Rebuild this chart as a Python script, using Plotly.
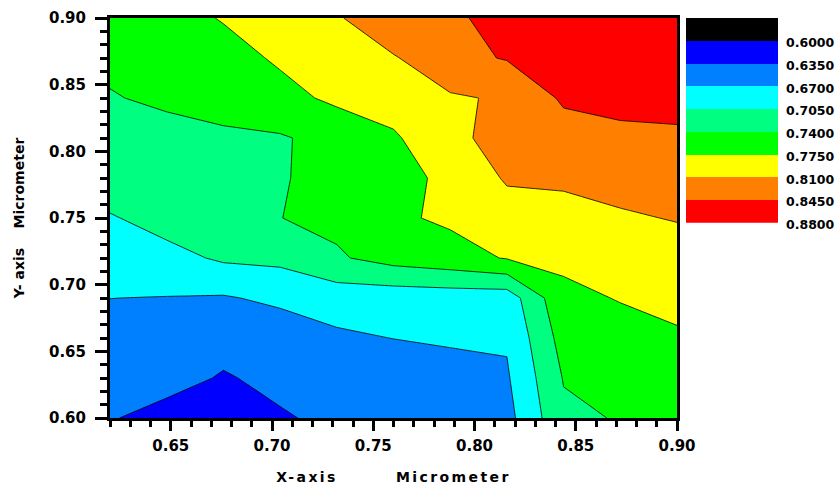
import plotly.graph_objects as go

# ---- data ----
x_vals = [0.620, 0.648, 0.676, 0.704, 0.732, 0.760, 0.788, 0.816, 0.844, 0.872, 0.900]
y_vals = [0.60, 0.63, 0.66, 0.69, 0.72, 0.75, 0.78, 0.81, 0.84, 0.87, 0.90]

row_y060 = [0.6390, 0.6150, 0.6100, 0.6293, 0.6476, 0.6400, 0.6400, 0.6587, 0.7333, 0.7421, 0.7520]
row_y063 = [0.6500, 0.6550, 0.6302, 0.6490, 0.6550, 0.6480, 0.6480, 0.6660, 0.7419, 0.7530, 0.7620]
row_y066 = [0.6600, 0.6620, 0.6550, 0.6500, 0.6644, 0.6705, 0.6770, 0.6735, 0.7538, 0.7640, 0.7713]
row_y069 = [0.6702, 0.6690, 0.6670, 0.6769, 0.6855, 0.6843, 0.6859, 0.6853, 0.7680, 0.7765, 0.7830]
row_y072 = [0.6870, 0.6939, 0.7100, 0.7134, 0.7359, 0.7533, 0.7625, 0.7770, 0.7810, 0.7890, 0.7880]
row_y075 = [0.7020, 0.7187, 0.7200, 0.7396, 0.7480, 0.7700, 0.7802, 0.7965, 0.7970, 0.8040, 0.8127]
row_y078 = [0.7264, 0.7260, 0.7280, 0.7377, 0.7500, 0.7600, 0.7850, 0.8134, 0.8164, 0.8283, 0.8260]
row_y081 = [0.7330, 0.7330, 0.7360, 0.7370, 0.7507, 0.7697, 0.8060, 0.8160, 0.8300, 0.8350, 0.8380]
row_y084 = [0.7387, 0.7437, 0.7490, 0.7640, 0.7820, 0.7936, 0.8060, 0.8140, 0.8500, 0.8579, 0.8588]
row_y087 = [0.7443, 0.7520, 0.7620, 0.7797, 0.7930, 0.8070, 0.8357, 0.8471, 0.8580, 0.8660, 0.8680]
row_y090 = [0.7520, 0.7620, 0.7772, 0.7900, 0.8060, 0.8390, 0.8400, 0.8550, 0.8660, 0.8720, 0.8760]

z_rows = [row_y060, row_y063, row_y066, row_y069, row_y072, row_y075,
          row_y078, row_y081, row_y084, row_y087, row_y090]

levels = [0.600, 0.635, 0.670, 0.705, 0.740, 0.775, 0.810, 0.845, 0.880]
level_labels = ["0.6000", "0.6350", "0.6700", "0.7050", "0.7400",
                "0.7750", "0.8100", "0.8450", "0.8800"]
band_colors = ["#000000", "#0000FF", "#0080FF", "#00FFFF", "#00FF80",
               "#00FF00", "#FFFF00", "#FF8000", "#FF0000"]
legend_floor = 0.565
x_ticks = [0.65, 0.70, 0.75, 0.80, 0.85, 0.90]
y_ticks = [0.60, 0.65, 0.70, 0.75, 0.80, 0.85, 0.90]


def stepped(colors):
    n = len(colors)
    scale = []
    for k, c in enumerate(colors):
        lo = max(0.0, (k - 0.45) / (n - 1))
        hi = min(1.0, (k + 0.45) / (n - 1))
        scale.append([lo, c])
        scale.append([hi, c])
    return scale


contour_colors = band_colors + ["#800000"]

FONT = "DejaVu Sans"
tick_font = dict(family=FONT, size=15, color="black", weight="bold")
title_font = dict(family=FONT, size=14, color="black", weight="bold")
NB = "\u00a0"

fig = go.Figure()

fig.add_trace(go.Contour(
    x=x_vals, y=y_vals, z=z_rows,
    autocontour=False,
    contours=dict(start=levels[0], end=levels[-1], size=0.035,
                  coloring="fill", showlines=True),
    line=dict(color="black", width=0.8, smoothing=0),
    colorscale=stepped(contour_colors),
    showscale=False,
    hoverinfo="x+y+z",
    xaxis="x", yaxis="y",
))

# discrete colour legend drawn as a one-column heatmap
fig.add_trace(go.Heatmap(
    x=[0, 1],
    y=[legend_floor] + levels,
    z=[[k] for k in range(len(band_colors))],
    zmin=0, zmax=len(band_colors) - 1,
    colorscale=stepped(band_colors),
    showscale=False,
    xaxis="x2", yaxis="y2",
    hoverinfo="skip",
))

axis_common = dict(
    showline=True, linewidth=3, linecolor="black", mirror=True,
    ticks="outside", tickwidth=3, tickcolor="black",
    showgrid=False, zeroline=False, automargin=False,
    tickfont=tick_font,
)

W, H = 840, 493
ml, mr, mt, mb = 110, 40, 18, 75
pw = W - ml - mr
ph = H - mt - mb
px_right = 677
box_l, box_r = 686, 778
legend_bottom_px = 222.7
plot_bottom_px = H - mb

x_title = ('<span style="letter-spacing:2.4px">X-axis' + NB * 8 + 'Micrometer</span>')
y_title = "Y-" + NB + "axis" + NB * 4 + "Micrometer" + NB * 3

fig.update_layout(
    width=W, height=H,
    margin=dict(l=ml, r=mr, t=mt, b=mb, pad=0, autoexpand=False),
    paper_bgcolor="white", plot_bgcolor="white",
    showlegend=False,
    xaxis=dict(
        axis_common,
        domain=[0, (px_right - ml) / pw],
        range=[0.62, 0.90],
        tickvals=x_ticks, tickformat=".2f",
        ticklen=10, ticklabelstandoff=2,
        minor=dict(dtick=0.01, tick0=0.62, ticks="outside", ticklen=6,
                   tickwidth=3, tickcolor="black"),
        title=dict(text=x_title, font=title_font, standoff=19),
        anchor="y",
    ),
    yaxis=dict(
        axis_common,
        domain=[0, 1],
        range=[0.60, 0.90],
        tickvals=y_ticks, tickformat=".2f",
        ticklen=12, ticklabelstandoff=6,
        minor=dict(dtick=0.01, tick0=0.60, ticks="outside", ticklen=7,
                   tickwidth=3, tickcolor="black"),
        title=dict(text=y_title, font=title_font, standoff=22),
        anchor="x",
    ),
    xaxis2=dict(
        domain=[(box_l - ml) / pw, (box_r - ml) / pw],
        range=[0, 1], visible=False, anchor="y2", fixedrange=True,
        automargin=False,
    ),
    yaxis2=dict(
        domain=[(plot_bottom_px - legend_bottom_px) / ph, 1],
        range=[levels[-1], legend_floor],
        anchor="x2", side="right",
        tickvals=levels, ticktext=level_labels,
        ticks="", showgrid=False, zeroline=False, showline=False,
        ticklabelstandoff=7, ticklabelshift=-2, automargin=False,
        tickfont=dict(family=FONT, size=12.5, color="black", weight="bold"),
        fixedrange=True,
    ),
)

fig.write_html("out.html")
